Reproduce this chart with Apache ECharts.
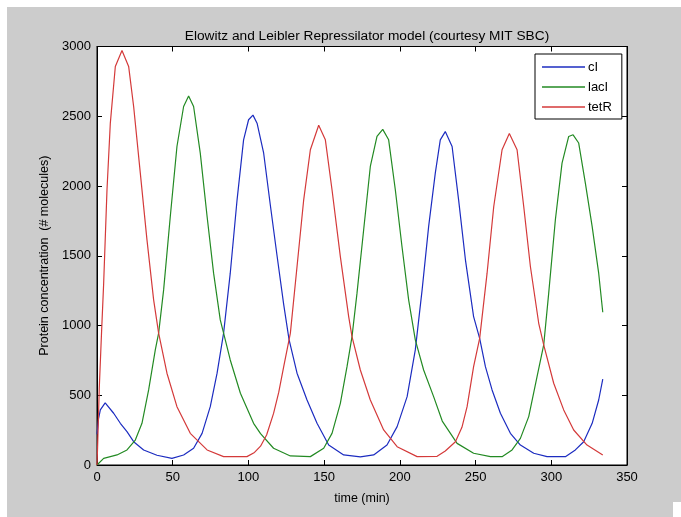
<!DOCTYPE html>
<html>
<head>
<meta charset="utf-8">
<script src="https://cdn.jsdelivr.net/npm/echarts@6/dist/echarts.min.js"></script>
<style>html,body{margin:0;padding:0;background:#fff}#c{width:681px;height:517px}</style>
</head>
<body>
<div id="c"></div>
<script>
// [time (min), molecules]
var cI = [[0,220],[1,330],[2.2,395],[5.4,445],[11,371],[15.4,299],[19.8,239],[24.2,167],[30.8,108],[39.6,70],[49.5,48],[57.2,72],[63.8,120],[69.4,227],[74.8,418],[79.3,658],[83.6,945],[88,1375],[92.5,1901],[96.8,2331],[100.1,2475],[103,2508],[105.7,2450],[110,2240],[114.5,1860],[118.9,1500],[123.3,1150],[126.8,900],[132.1,658],[138.7,466],[145.3,299],[153,143],[162.9,72],[173.9,58],[182.7,72],[191.5,143],[198.2,275],[204.8,490],[210.2,825],[214.7,1255],[219,1709],[223.4,2092],[226.7,2331],[230,2390],[234.5,2283],[238.8,1901],[243.3,1471],[248.7,1064],[252.7,908],[256.5,705],[260.9,538],[266.4,371],[273,227],[279.6,143],[288.4,84],[297.2,60],[309.3,60],[315.9,108],[321.4,167],[327,299],[331.3,466],[334,615]];
var lacI = [[0,0],[0.4,12],[4.4,48],[13.2,72],[19.8,108],[25.3,179],[29.7,299],[34.1,538],[38.5,825],[40.7,945],[44,1255],[48.4,1781],[52.8,2283],[57.2,2570],[60.5,2645],[63.8,2570],[68.2,2236],[72.7,1781],[77,1375],[81.4,1040],[83.6,945],[88,753],[94.7,514],[103.4,299],[108,225],[116.6,120],[127.7,65],[140.9,60],[149.7,120],[155.2,227],[160.7,442],[165.1,705],[168.4,920],[171.7,1232],[176.1,1686],[180.5,2140],[184.9,2355],[188.7,2406],[192.6,2331],[197,1973],[201.4,1566],[205.8,1184],[210.2,897],[215.7,681],[222.3,490],[228,315],[237.8,155],[248.7,84],[259.8,60],[267.5,60],[274.1,108],[279.6,191],[285.1,347],[290.6,633],[295,861],[298.3,1232],[302.7,1758],[307.1,2164],[311.5,2355],[314.4,2367],[318.1,2308],[322.5,2021],[327,1709],[331.3,1375],[334,1095]];
var tetR = [[0,0],[0.4,131],[1.5,550],[3,950],[4.4,1303],[6.6,1973],[8.8,2451],[12.1,2857],[16.5,2972],[20.9,2857],[24.2,2570],[28.6,2092],[33,1614],[37.4,1184],[40.7,945],[46.2,658],[52.8,418],[61.6,227],[72.7,108],[83.6,60],[99,60],[104,90],[108,135],[112,215],[116.6,370],[120,520],[123.3,705],[127.7,945],[132.1,1423],[136.5,1901],[140.9,2260],[146.4,2435],[150.8,2331],[155.2,1973],[160.7,1494],[166.2,1064],[168.4,920],[173.9,681],[180.5,466],[189.3,251],[198.2,131],[211.4,60],[224.6,62],[230,100],[236.7,167],[241,270],[244.4,418],[248.7,705],[252.7,908],[257.6,1375],[262,1853],[267.5,2260],[272.3,2377],[277.4,2260],[281.8,1853],[286.2,1423],[291.7,1016],[295,861],[301.6,586],[308.2,395],[314.8,251],[323.6,143],[334,72]];
var names = ['cI','lacI','tetR'];
var colors = ['#1c2cc0','#238a23','#d43a3a'];
var xTicks = {min:0,max:350,step:50};
var yTicks = {min:0,max:3000,step:500};
var titleText = 'Elowitz and Leibler Repressilator model (courtesy MIT SBC)';
var xName = 'time (min)';
var yName = 'Protein concentration  (# molecules)';

var chart = echarts.init(document.getElementById('c'), null, {renderer:'canvas'});
var font = 'Liberation Sans, Arial, sans-serif';
function ax(pos, show, isX){
  var t = isX ? xTicks : yTicks;
  return {
    type:'value', position:pos, min:t.min, max:t.max, interval:t.step,
    axisLine:{show:true,onZero:false,lineStyle:{color:'#000',width:1}},
    axisTick:{show:true,inside:true,length:5,lineStyle:{color:'#000'}},
    axisLabel:{show:show,color:'#000',fontSize:13,fontFamily:font,margin:6,
      formatter:function(v){return String(v);}},
    splitLine:{show:false}
  };
}
var xa0 = ax('bottom', true, true); xa0.name = xName; xa0.nameLocation='middle'; xa0.nameGap=27;
xa0.nameTextStyle={color:'#000',fontSize:12.5,fontFamily:font};
var ya0 = ax('left', true, false); ya0.name = yName; ya0.nameLocation='middle'; ya0.nameGap=46;
ya0.nameTextStyle={color:'#000',fontSize:12.5,fontFamily:font};
var data = [cI, lacI, tetR];
chart.setOption({
  backgroundColor:'#fff',
  animation:false,
  graphic:[
    {type:'rect',z:-10,shape:{x:7,y:7,width:674,height:510},style:{fill:'#cccccc'},silent:true},
    {type:'rect',z:-5,shape:{x:673,y:502,width:8,height:15},style:{fill:'#fff'},silent:true}
  ],
  title:{text:titleText,left:362,textAlign:'center',top:24,textStyle:{color:'#000',fontSize:13.7,fontWeight:'normal',fontFamily:font}},
  grid:{left:97,right:54,top:46.5,bottom:52,show:true,backgroundColor:'#fff',borderColor:'#000',borderWidth:1},
  xAxis:[xa0, ax('top', false, true)],
  yAxis:[ya0, ax('right', false, false)],
  legend:{
    orient:'vertical', left:535, top:54, data:names.map(function(n){return {name:n,icon:'rect'};}),
    backgroundColor:'#fff', borderColor:'#000', borderWidth:1, padding:[6,10,5,7],
    itemWidth:43, itemHeight:1.5, itemGap:6,
    textStyle:{color:'#000',fontSize:13,fontFamily:font,padding:[0,0,0,-2],lineHeight:14}
  },
  series: names.map(function(n,i){
    return {name:n,type:'line',data:data[i],xAxisIndex:0,yAxisIndex:0,symbol:'none',showSymbol:false,
      lineStyle:{color:colors[i],width:1.2},itemStyle:{color:colors[i]},smooth:false};
  })
});
</script>
</body>
</html>
